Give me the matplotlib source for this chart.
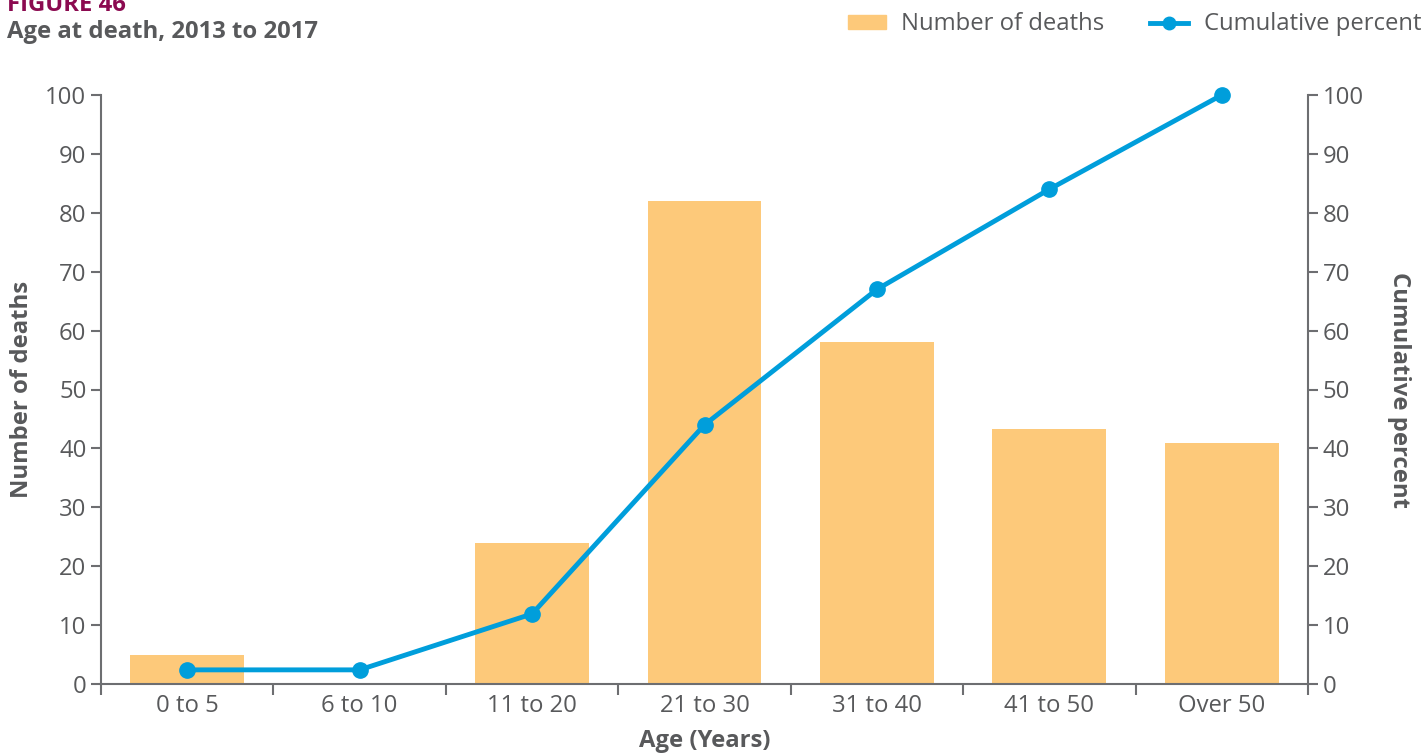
import numpy as np
import matplotlib.pyplot as plt
from matplotlib.lines import Line2D
from matplotlib.patches import Patch

categories = ["0 to 5", "6 to 10", "11 to 20", "21 to 30", "31 to 40", "41 to 50", "Over 50"]
deaths = [5, 0, 24, 82, 58, 43.3, 41]
cumulative = [2.4, 2.4, 11.9, 44, 67, 84, 100]

BAR = "#FDC97A"
LINE = "#009EDB"
GREY = "#58595B"
AX = "#6D6E71"
FS = 17.2

plt.rcParams["font.family"] = ["Open Sans", "DejaVu Sans"]

fig = plt.figure(figsize=(14.27, 7.55), dpi=100)
ax = fig.add_axes([101 / 1427, 1 - 684 / 755, (1308 - 101) / 1427, (684 - 95) / 755])
ax2 = ax.twinx()

x = np.arange(len(categories))
ax.bar(x, deaths, width=0.66, color=BAR, zorder=1)
ax2.plot(x, cumulative, color=LINE, lw=3.5, marker="o", ms=11, zorder=3, clip_on=False)

for a in (ax, ax2):
    a.set_xlim(-0.5, len(categories) - 0.5)
    a.set_ylim(0, 100)
    a.set_yticks(range(0, 101, 10))
    a.spines["top"].set_visible(False)
    for s in ("left", "right", "bottom"):
        a.spines[s].set_color(AX)
        a.spines[s].set_linewidth(1.5)
    a.tick_params(colors=AX, labelcolor=GREY, labelsize=FS, width=1.5, length=7)

ax2.spines["left"].set_visible(False)
ax.spines["right"].set_visible(False)
ax2.spines["bottom"].set_visible(False)

ax.set_xticks(x)
ax.set_xticklabels(categories)
ax.tick_params(axis="x", length=0, pad=7)
ax.set_xticks(np.arange(-0.5, len(categories)), minor=True)
ax.tick_params(axis="x", which="minor", length=8, width=1.5, color=AX)

ax.set_xlabel("Age (Years)", fontsize=FS, fontweight="bold", color=GREY, labelpad=8)
ax.set_ylabel("Number of deaths", fontsize=FS, fontweight="bold", color=GREY, labelpad=8)
ax2.set_ylabel("Cumulative percent", fontsize=FS, fontweight="bold", color=GREY,
               rotation=270, labelpad=34)

fig.text(7 / 1427, 1 - 11 / 755, "FIGURE 46", fontsize=FS, fontweight="bold",
         color="#8B0A50", va="baseline")
fig.text(7 / 1427, 1 - 38 / 755, "Age at death, 2013 to 2017", fontsize=FS,
         fontweight="bold", color=GREY, va="baseline")

handles = [Patch(color=BAR),
           Line2D([], [], color=LINE, lw=3.5, marker="o", ms=9)]
leg = fig.legend(handles, ["Number of deaths", "Cumulative percent"], ncol=2,
                 loc="upper right", bbox_to_anchor=(1.011, 1.012), frameon=False,
                 fontsize=FS, handlelength=1.6, handleheight=0.5, columnspacing=1.9,
                 handletextpad=0.65)
for t in leg.get_texts():
    t.set_color(GREY)

fig.savefig("out.png", dpi=100)
